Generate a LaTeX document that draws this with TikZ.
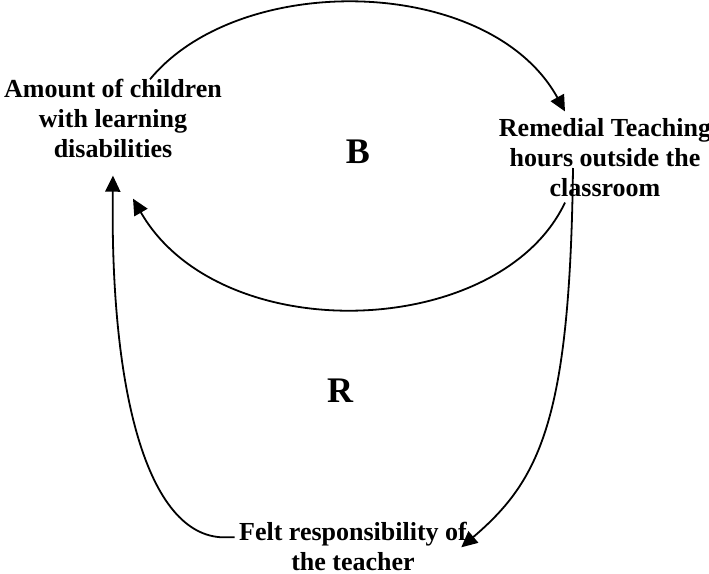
\documentclass[tikz,border=0pt]{standalone}
\usepackage{fontspec}
\setmainfont{Liberation Serif}
\usetikzlibrary{arrows.meta}

\newcommand\factorfont{\fontsize{13}{15}\selectfont\bfseries}
\newcommand\loopfont{\fontsize{18}{20}\selectfont\bfseries}

\tikzset{
  factor/.style={align=center, font=\factorfont, inner sep=0pt},
  looplabel/.style={font=\loopfont, inner sep=0pt},
  link/.style={line width=0.9pt, -{Triangle[length=8pt,width=7.5pt]}}
}

\begin{document}
\begin{tikzpicture}[x=0.5pt,y=-0.5pt]
        \useasboundingbox (0,0) rectangle (709,574);

        % factors
        \node[factor] (amount)   at (113,118) {Amount of children\\with learning\\disabilities};
        \node[factor] (remedial) at (605,158) {Remedial Teaching\\hours outside the\\classroom};
        \node[factor] (felt)     at (353,546) {Felt responsibility of\\the teacher};

        % loop labels
        \node[looplabel] (B) at (358,152) {B};
        \node[looplabel] (R) at (340,391) {R};

        % balancing loop
        \draw[link] ([shift={(37,1)}]amount.north)
          .. controls (240,-30) and (490,-25) .. ([shift={(-40,-7)}]remedial.north);
        \draw[link] ([shift={(-40,5)}]remedial.south)
          .. controls (500,340) and (220,350) .. ([shift={(20,41)}]amount.south);

        % reinforcing loop
        \draw[link] ([shift={(-32,10)}]remedial.center)
          .. controls (570,420) and (540,480) .. ([shift={(-6,26)}]felt.north east);
        \draw[link] ([shift={(-4,16)}]felt.north west) -- ++(-8,0)
          .. controls (150,540) and (110,400) .. ([shift={(0,18)}]amount.south);

\end{tikzpicture}
\end{document}
